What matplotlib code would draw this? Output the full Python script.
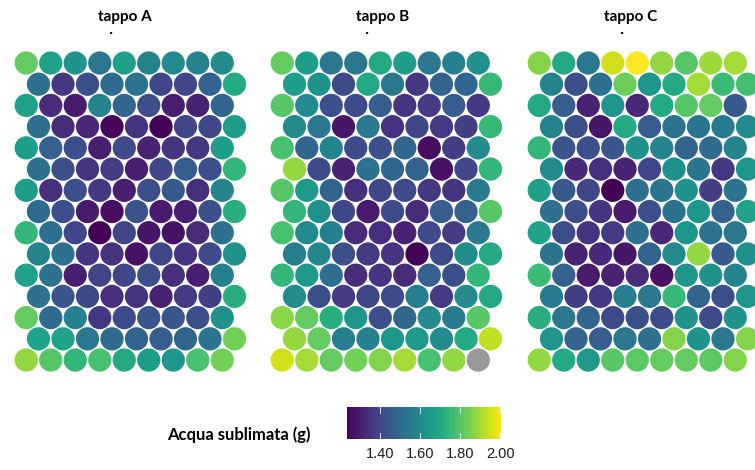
import matplotlib
matplotlib.use("Agg")
import matplotlib.pyplot as plt
from matplotlib.patches import Circle
import numpy as np

# valori stimati dal grafico, 15 righe x 9 posizioni per ogni tappo
tappo_A = [
    [1.82, 1.68, 1.63, 1.54, 1.67, 1.58, 1.60, 1.58, 1.60],
    [1.52, 1.36, 1.42, 1.50, 1.53, 1.40, 1.40, 1.47, 1.70],
    [1.68, 1.33, 1.29, 1.58, 1.48, 1.42, 1.30, 1.31, 1.48],
    [1.52, 1.33, 1.32, 1.25, 1.35, 1.24, 1.40, 1.40, 1.66],
    [1.66, 1.47, 1.42, 1.30, 1.41, 1.31, 1.35, 1.36, 1.66],
    [1.52, 1.42, 1.35, 1.37, 1.30, 1.40, 1.46, 1.42, 1.74],
    [1.66, 1.34, 1.42, 1.36, 1.30, 1.42, 1.45, 1.34, 1.58],
    [1.50, 1.42, 1.29, 1.26, 1.43, 1.29, 1.30, 1.42, 1.72],
    [1.74, 1.52, 1.40, 1.24, 1.40, 1.28, 1.27, 1.33, 1.52],
    [1.58, 1.52, 1.35, 1.35, 1.27, 1.40, 1.35, 1.41, 1.62],
    [1.68, 1.52, 1.30, 1.39, 1.40, 1.42, 1.34, 1.30, 1.57],
    [1.52, 1.44, 1.40, 1.34, 1.35, 1.31, 1.37, 1.38, 1.72],
    [1.82, 1.50, 1.57, 1.36, 1.41, 1.44, 1.44, 1.42, 1.62],
    [1.68, 1.68, 1.54, 1.50, 1.48, 1.46, 1.48, 1.53, 1.84],
    [1.88, 1.80, 1.74, 1.78, 1.70, 1.66, 1.64, 1.78, 1.84],
]

tappo_B = [
    [1.82, 1.66, 1.54, 1.54, 1.70, 1.66, 1.54, 1.57, 1.62],
    [1.66, 1.63, 1.41, 1.70, 1.54, 1.36, 1.48, 1.49, 1.75],
    [1.80, 1.60, 1.42, 1.41, 1.46, 1.35, 1.37, 1.46, 1.36],
    [1.60, 1.54, 1.28, 1.55, 1.35, 1.40, 1.37, 1.38, 1.75],
    [1.78, 1.49, 1.58, 1.41, 1.42, 1.49, 1.26, 1.38, 1.60],
    [1.88, 1.41, 1.31, 1.52, 1.49, 1.47, 1.27, 1.40, 1.74],
    [1.80, 1.65, 1.48, 1.34, 1.40, 1.41, 1.36, 1.35, 1.55],
    [1.74, 1.62, 1.40, 1.29, 1.41, 1.33, 1.46, 1.47, 1.80],
    [1.78, 1.60, 1.57, 1.33, 1.34, 1.31, 1.41, 1.37, 1.55],
    [1.56, 1.59, 1.42, 1.37, 1.35, 1.24, 1.41, 1.61, 1.70],
    [1.74, 1.65, 1.51, 1.33, 1.35, 1.33, 1.47, 1.42, 1.74],
    [1.60, 1.42, 1.37, 1.40, 1.41, 1.56, 1.37, 1.60, 1.70],
    [1.87, 1.82, 1.72, 1.64, 1.42, 1.49, 1.60, 1.55, 1.80],
    [1.88, 1.82, 1.56, 1.57, 1.64, 1.65, 1.60, 1.70, 1.93],
    [1.95, 1.90, 1.82, 1.84, 1.86, 1.90, 1.78, 1.88, np.nan],
]

tappo_C = [
    [1.86, 1.70, 1.54, 1.95, 2.00, 1.88, 1.80, 1.89, 1.90],
    [1.58, 1.42, 1.52, 1.83, 1.64, 1.70, 1.90, 1.76, 1.77],
    [1.70, 1.46, 1.31, 1.64, 1.32, 1.70, 1.80, 1.82, 1.45],
    [1.58, 1.42, 1.28, 1.70, 1.46, 1.53, 1.53, 1.55, 1.60],
    [1.74, 1.44, 1.42, 1.44, 1.62, 1.58, 1.48, 1.50, 1.58],
    [1.60, 1.32, 1.34, 1.31, 1.40, 1.62, 1.53, 1.36, 1.64],
    [1.67, 1.45, 1.40, 1.24, 1.52, 1.53, 1.63, 1.38, 1.53],
    [1.52, 1.42, 1.35, 1.29, 1.42, 1.52, 1.64, 1.47, 1.68],
    [1.68, 1.42, 1.35, 1.37, 1.52, 1.32, 1.64, 1.53, 1.54],
    [1.53, 1.31, 1.32, 1.28, 1.48, 1.60, 1.88, 1.45, 1.62],
    [1.76, 1.47, 1.29, 1.31, 1.33, 1.27, 1.64, 1.62, 1.58],
    [1.55, 1.38, 1.36, 1.56, 1.54, 1.75, 1.48, 1.42, 1.64],
    [1.72, 1.54, 1.48, 1.41, 1.42, 1.41, 1.62, 1.41, 1.63],
    [1.64, 1.48, 1.46, 1.54, 1.52, 1.86, 1.63, 1.54, 1.86],
    [1.88, 1.70, 1.65, 1.80, 1.81, 1.82, 1.82, 1.81, 1.86],
]

titoli = ["tappo A", "tappo B", "tappo C"]
dati = [tappo_A, tappo_B, tappo_C]
cbar_ticks = [1.40, 1.60, 1.80, 2.00]
vmin, vmax = 1.236, 2.004

W, H = 755, 470
fig = plt.figure(figsize=(W / 100, H / 100), dpi=100)
cmap = plt.get_cmap("viridis")
norm = plt.Normalize(vmin, vmax)

px = 24.5              # pixel per unità
hstep = np.sqrt(3) / 2
xlim = (-0.5, 9.0)
ylim = (-14 * hstep - 0.5, 0.5)
aw = (xlim[1] - xlim[0]) * px
ah = (ylim[1] - ylim[0]) * px
top = 50.75

lefts = [14, 270, 527]
title_x = [124.5, 383, 631]
dot_x = [111, 367, 622]

for k in range(3):
    ax = fig.add_axes([lefts[k] / W, (H - top - ah) / H, aw / W, ah / H])
    vals = dati[k]
    for r, riga in enumerate(vals):
        for c, v in enumerate(riga):
            x = c + 0.5 * (r % 2)
            y = -r * hstep
            col = "#999999" if np.isnan(v) else cmap(norm(v))
            ax.add_patch(Circle((x, y), 0.475, facecolor=col, edgecolor="none"))
    ax.set_xlim(*xlim)
    ax.set_ylim(*ylim)
    ax.axis("off")
    fig.text(title_x[k] / W, 1 - 17 / H, titoli[k], ha="center", va="center",
             fontsize=11, fontweight="bold", family="Lato")
    fig.text(dot_x[k] / W, 1 - 31 / H, ".", ha="center", va="center",
             fontsize=8, fontweight="bold")

# barra dei colori
cx0, cx1, cy0, cy1 = 347, 501, 407, 439
cax = fig.add_axes([cx0 / W, (H - cy1) / H, (cx1 - cx0) / W, (cy1 - cy0) / H])
grad = np.linspace(vmin, vmax, 512).reshape(1, -1)
cax.imshow(grad, aspect="auto", cmap=cmap, norm=norm, interpolation="bilinear",
           extent=[vmin, vmax, 0, 1])
for t in cbar_ticks:
    cax.plot([t, t], [0.8, 1], color="white", lw=0.7, alpha=0.8)
    cax.plot([t, t], [0, 0.2], color="white", lw=0.7, alpha=0.8)
cax.set_xlim(vmin, vmax)
cax.set_ylim(0, 1)
cax.set_yticks([])
cax.set_xticks(cbar_ticks)
cax.set_xticklabels([f"{t:.2f}" for t in cbar_ticks], fontsize=10.5,
                    family="Liberation Sans", color="#1a1a1a")
cax.tick_params(axis="x", length=0, pad=6)
for s in cax.spines.values():
    s.set_visible(False)

fig.text(167 / W, 1 - 435 / H, "Acqua sublimata (g)", ha="left", va="center",
         fontsize=12, fontweight="bold", family="Lato")

fig.savefig("out.png", dpi=100)
